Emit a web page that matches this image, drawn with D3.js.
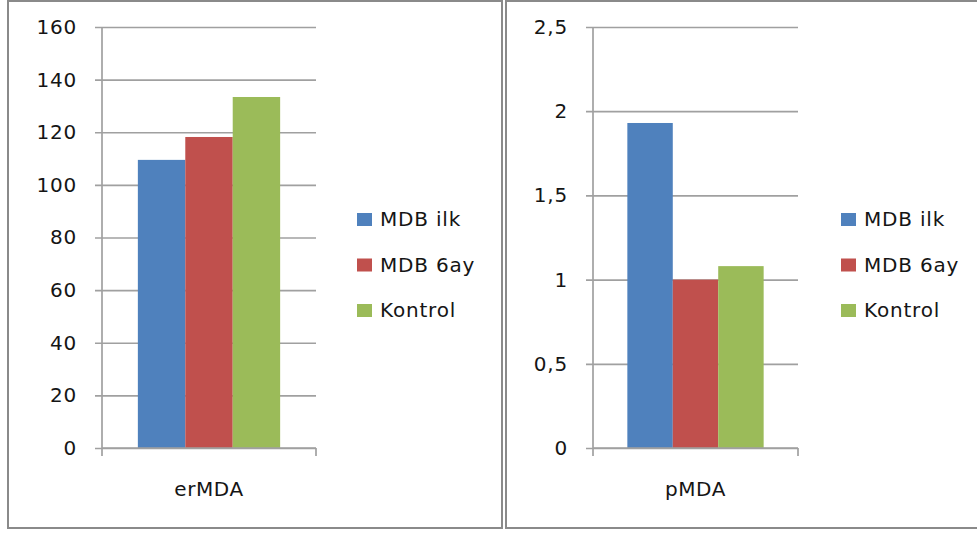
<!DOCTYPE html>
<html>
<head>
<meta charset="utf-8">
<script src="https://cdn.jsdelivr.net/npm/d3@7"></script>
<style>
  html, body { margin: 0; padding: 0; background: #fff; }
  svg { display: block; }
  text { font-family: "DejaVu Sans", sans-serif; fill: #151515; }
</style>
</head>
<body>
<svg id="chart" width="977" height="533"></svg>
<script>
// Series and categories
const seriesNames = ["MDB ilk", "MDB 6ay", "Kontrol"];
const seriesColors = ["#4f81bd", "#c0504d", "#9bbb59"];

const erCategories = ["erMDA"];
const erValues = [109.5, 118.2, 133.4];
const erTicks = [0, 20, 40, 60, 80, 100, 120, 140, 160];

const pCategories = ["pMDA"];
const pValues = [1.93, 1.0, 1.08];
const pTicks = [0, 0.5, 1, 1.5, 2, 2.5];

const svg = d3.select("#chart");
const commaFmt = v => String(v).replace(".", ",");

// panel frames
svg.append("rect").attr("x", 8).attr("y", 1).attr("width", 494).attr("height", 527)
  .attr("fill", "none").attr("stroke", "#8a8a8a").attr("stroke-width", 2);
svg.append("rect").attr("x", 506).attr("y", 1).attr("width", 480).attr("height", 527)
  .attr("fill", "none").attr("stroke", "#8a8a8a").attr("stroke-width", 2);

function drawPanel(cfg) {
  const g = svg.append("g");
  const x0 = cfg.left, x1 = cfg.right, yTop = 27, yBot = 448;

  const y = d3.scaleLinear().domain([0, cfg.max]).range([yBot, yTop]);
  const xCat = d3.scaleBand().domain(cfg.categories).range([x0, x1])
    .paddingInner(0).paddingOuter(0.252);
  const xSer = d3.scaleBand().domain(seriesNames).range([0, xCat.bandwidth()]).padding(0);

  // gridlines + tick labels
  const yAxis = d3.axisLeft(y).tickValues(cfg.ticks)
    .tickSize(-(x1 - x0 + 7)).tickSizeOuter(0).tickPadding(18)
    .tickFormat(cfg.fmt);
  const ag = g.append("g").attr("transform", `translate(${x0 - 7},0)`).call(yAxis);
  ag.select(".domain").remove();
  ag.selectAll(".tick line").attr("stroke", "#a0a0a0").attr("stroke-width", 1.7);
  ag.selectAll(".tick text")
    .attr("font-size", 20).attr("letter-spacing", "0.8px")
    .attr("fill", "#151515").attr("font-family", "DejaVu Sans, sans-serif");

  // bars
  cfg.categories.forEach(cat => {
    g.selectAll(null).data(cfg.values).enter().append("rect")
      .attr("x", (d, i) => xCat(cat) + xSer(seriesNames[i]))
      .attr("y", d => y(d))
      .attr("width", xSer.bandwidth())
      .attr("height", d => y(0) - y(d))
      .attr("fill", (d, i) => seriesColors[i]);
  });

  // value axis line and category axis line with boundary ticks
  g.append("line").attr("x1", x0).attr("x2", x0).attr("y1", yTop).attr("y2", yBot + 8)
    .attr("stroke", "#a0a0a0").attr("stroke-width", 1.7);
  g.append("line").attr("x1", x0).attr("x2", x1).attr("y1", yBot).attr("y2", yBot)
    .attr("stroke", "#a0a0a0").attr("stroke-width", 1.7);
  g.append("line").attr("x1", x1).attr("x2", x1).attr("y1", yBot).attr("y2", yBot + 8)
    .attr("stroke", "#a0a0a0").attr("stroke-width", 1.7);

  // category label
  cfg.categories.forEach(cat => {
    g.append("text").attr("x", xCat(cat) + xCat.bandwidth() / 2).attr("y", 496)
      .attr("text-anchor", "middle").attr("font-size", 20).attr("letter-spacing", "0.6px")
      .text(cat);
  });

  // legend
  const lg = g.append("g");
  seriesNames.forEach((name, i) => {
    const cy = 219 + i * 45.5;
    lg.append("rect").attr("x", cfg.legendX).attr("y", cy - 6)
      .attr("width", 15).attr("height", 13).attr("fill", seriesColors[i]);
    lg.append("text").attr("x", cfg.legendX + 23).attr("y", cy + 7)
      .attr("font-size", 20).attr("letter-spacing", "0.8px").text(name);
  });
}

drawPanel({ left: 102, right: 316, max: 160, ticks: erTicks, fmt: commaFmt,
  categories: erCategories, values: erValues, legendX: 357 });
drawPanel({ left: 593, right: 798, max: 2.5, ticks: pTicks, fmt: commaFmt,
  categories: pCategories, values: pValues, legendX: 841 });
</script>
</body>
</html>
